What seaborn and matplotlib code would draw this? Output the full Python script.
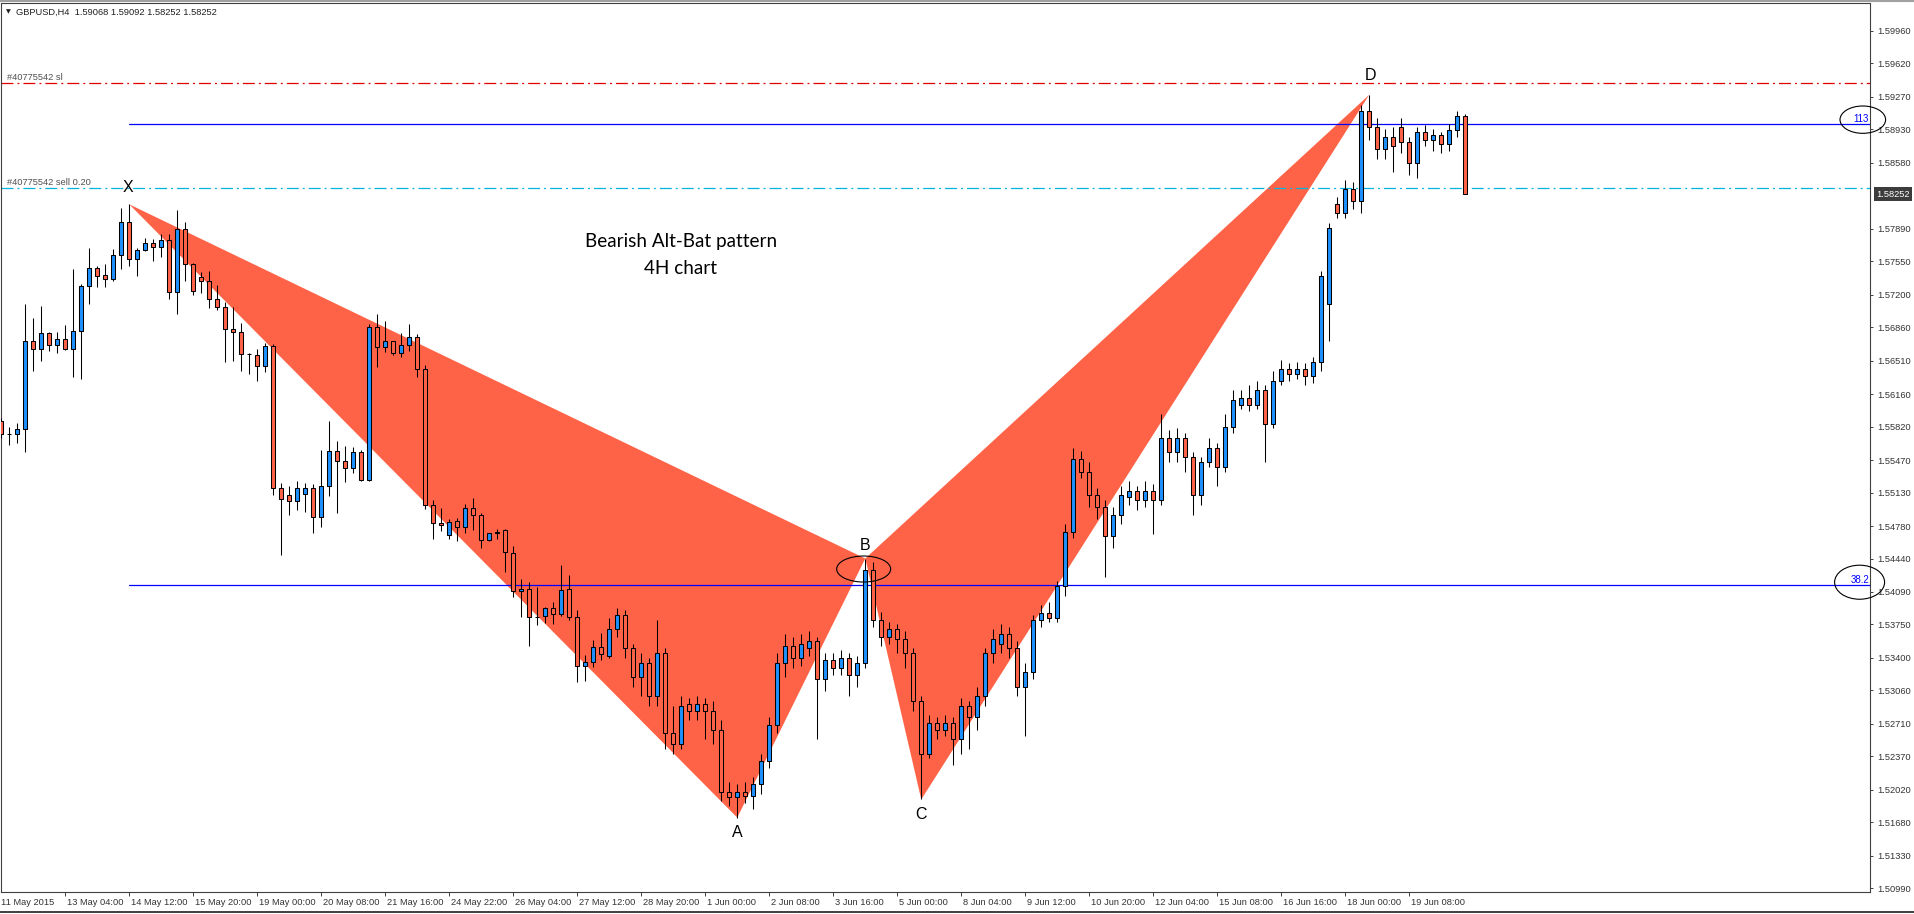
import numpy as np
import pandas as pd
import matplotlib
matplotlib.use("Agg")
import matplotlib.pyplot as plt
from matplotlib.patches import Ellipse
from matplotlib.lines import Line2D
import seaborn as sns

sns.set_theme(style="white")
plt.rcParams['font.family'] = ['Liberation Sans', 'DejaVu Sans']
plt.rcParams['lines.scale_dashes'] = False

# ---------------- data (GBPUSD H4 candles) ----------------
opens = [
    1.55881, 1.55745, 1.55742, 1.55791, 1.56714, 1.56627, 1.56798, 1.56669, 1.56732, 1.56627,
    1.56819, 1.57290, 1.57474, 1.57401, 1.57359, 1.57610, 1.57956, 1.57572, 1.57666, 1.57736,
    1.57695, 1.57768, 1.57224, 1.57883, 1.57517, 1.57381, 1.57339, 1.57151, 1.57067, 1.56837,
    1.56806, 1.56580, 1.56565, 1.56450, 1.56659, 1.55180, 1.55100, 1.55040, 1.55111, 1.55173,
    1.54870, 1.55194, 1.55560, 1.55456, 1.55383, 1.55550, 1.55257, 1.56857, 1.56648, 1.56711,
    1.56585, 1.56669, 1.56753, 1.56418, 1.54996, 1.54807, 1.54686, 1.54829, 1.54773, 1.54965,
    1.54892, 1.54630, 1.54703, 1.54735, 1.54494, 1.54097, 1.54118, 1.53827, 1.53835, 1.53919,
    1.53856, 1.54118, 1.53825, 1.53312, 1.53354, 1.53511, 1.53417, 1.5370, 1.5385, 1.5350,
    1.5320, 1.5335, 1.5300, 1.5345, 1.5262, 1.5250, 1.5292, 1.5285, 1.5292, 1.5285,
    1.5265, 1.5200, 1.5195, 1.5200, 1.5196, 1.5208, 1.5232, 1.5270, 1.5335, 1.5352,
    1.5340, 1.5350, 1.5358, 1.5318, 1.5338, 1.5330, 1.5340, 1.5322, 1.5335, 1.5432,
    1.5380, 1.5362, 1.5370, 1.5360, 1.5345, 1.5295, 1.5240, 1.5272, 1.5265, 1.5272,
    1.5255, 1.5290, 1.5278, 1.5300, 1.5345, 1.5355, 1.5365, 1.5350, 1.5310, 1.5325,
    1.5380, 1.5387, 1.5382, 1.5415, 1.5472, 1.5548, 1.5535, 1.5510, 1.5498, 1.5468,
    1.5490, 1.5508, 1.5515, 1.5505, 1.5515, 1.5505, 1.5570, 1.5555, 1.5570, 1.5550,
    1.5510, 1.5545, 1.5560, 1.5540, 1.5582, 1.5605, 1.5612, 1.5605, 1.5620, 1.5585,
    1.5630, 1.5642, 1.5637, 1.5642, 1.5635, 1.5650, 1.5710, 1.5815, 1.5805, 1.5830,
    1.5818, 1.5912, 1.5895, 1.5872, 1.5885, 1.5895, 1.5880, 1.5858, 1.5890, 1.5882,
    1.5887, 1.5878, 1.5892, 1.59068,
]
highs = [
    1.55910, 1.55818, 1.55853, 1.57101, 1.56951, 1.57080, 1.56805, 1.56812, 1.56882, 1.57467,
    1.57307, 1.57684, 1.57499, 1.57520, 1.57680, 1.58102, 1.58144, 1.57691, 1.57788, 1.57778,
    1.57834, 1.57834, 1.58085, 1.57960, 1.57527, 1.57437, 1.57447, 1.57297, 1.57119, 1.57067,
    1.56900, 1.56593, 1.56628, 1.56691, 1.56680, 1.55230, 1.55200, 1.55250, 1.55226, 1.55215,
    1.55571, 1.55874, 1.55665, 1.55613, 1.55602, 1.55571, 1.56892, 1.56993, 1.56923, 1.56715,
    1.56794, 1.56892, 1.56784, 1.56460, 1.55048, 1.54964, 1.54849, 1.54864, 1.55010, 1.55073,
    1.54913, 1.54710, 1.54745, 1.54749, 1.54571, 1.54222, 1.54194, 1.54139, 1.53936, 1.53985,
    1.54372, 1.54264, 1.53902, 1.53427, 1.53584, 1.53657, 1.53814, 1.5392, 1.5390, 1.5355,
    1.5345, 1.5340, 1.5380, 1.5350, 1.5290, 1.5300, 1.5298, 1.5300, 1.5298, 1.5295,
    1.5275, 1.5210, 1.5208, 1.5210, 1.5215, 1.5240, 1.5278, 1.5345, 1.5365, 1.5362,
    1.5365, 1.5368, 1.5362, 1.5345, 1.5345, 1.5348, 1.5345, 1.5342, 1.5444, 1.5440,
    1.5388, 1.5378, 1.5375, 1.5368, 1.5350, 1.5300, 1.5280, 1.5278, 1.5280, 1.5278,
    1.5298, 1.5295, 1.5310, 1.5350, 1.5370, 1.5375, 1.5372, 1.5358, 1.5335, 1.5385,
    1.5395, 1.5398, 1.5420, 1.5480, 1.5560, 1.5556, 1.5545, 1.5518, 1.5505, 1.5498,
    1.5520, 1.5525, 1.5520, 1.5525, 1.5522, 1.5595, 1.5578, 1.5580, 1.5575, 1.5555,
    1.5550, 1.5570, 1.5565, 1.5595, 1.5620, 1.5620, 1.5625, 1.5630, 1.5625, 1.5640,
    1.5652, 1.5648, 1.5650, 1.5648, 1.5655, 1.5745, 1.5795, 1.5822, 1.5840, 1.5838,
    1.5918, 1.5929, 1.5905, 1.5893, 1.5895, 1.5905, 1.5885, 1.5895, 1.5897, 1.5893,
    1.5890, 1.5898, 1.5912, 1.59092,
]
lows = [
    1.55700, 1.55627, 1.55644, 1.55557, 1.56404, 1.56509, 1.56613, 1.56585, 1.56620, 1.56341,
    1.56320, 1.57098, 1.57276, 1.57276, 1.57345, 1.57467, 1.57502, 1.57398, 1.57656, 1.57555,
    1.57597, 1.57151, 1.57001, 1.57346, 1.57193, 1.57214, 1.57057, 1.57036, 1.56499, 1.56509,
    1.56405, 1.56366, 1.56300, 1.56394, 1.55100, 1.54480, 1.54900, 1.54950, 1.54929, 1.54710,
    1.54765, 1.55097, 1.54912, 1.55243, 1.55330, 1.55247, 1.55247, 1.56439, 1.56596, 1.56564,
    1.56550, 1.56613, 1.56334, 1.54954, 1.54640, 1.54731, 1.54640, 1.54627, 1.54710, 1.54735,
    1.54553, 1.54620, 1.54648, 1.54302, 1.54041, 1.53832, 1.53528, 1.53748, 1.53769, 1.53759,
    1.53835, 1.53793, 1.53150, 1.53160, 1.53302, 1.53375, 1.53396, 1.5362, 1.5340, 1.5310,
    1.5300, 1.5290, 1.5290, 1.5245, 1.5240, 1.5245, 1.5275, 1.5275, 1.5255, 1.5250,
    1.5190, 1.5185, 1.5173, 1.5188, 1.5182, 1.5198, 1.5225, 1.5262, 1.5320, 1.5330,
    1.5332, 1.5342, 1.5255, 1.5305, 1.5322, 1.5322, 1.5300, 1.5310, 1.5330, 1.5372,
    1.5352, 1.5355, 1.5345, 1.5330, 1.5285, 1.5192, 1.5235, 1.5255, 1.5258, 1.5228,
    1.5240, 1.5245, 1.5265, 1.5290, 1.5335, 1.5345, 1.5340, 1.5300, 1.5258, 1.5318,
    1.5372, 1.5378, 1.5378, 1.5405, 1.5465, 1.5528, 1.5498, 1.5485, 1.5425, 1.5455,
    1.5480, 1.5500, 1.5495, 1.5498, 1.5470, 1.5500, 1.5545, 1.5545, 1.5535, 1.5490,
    1.5500, 1.5540, 1.5520, 1.5535, 1.5575, 1.5600, 1.5598, 1.5600, 1.5545, 1.5580,
    1.5625, 1.5630, 1.5632, 1.5625, 1.5628, 1.5640, 1.5672, 1.5800, 1.5800, 1.5810,
    1.5805, 1.5882, 1.5862, 1.5862, 1.5848, 1.5868, 1.5845, 1.5842, 1.5875, 1.5870,
    1.5868, 1.5870, 1.5885, 1.58252,
]
closes = [
    1.55742, 1.55742, 1.55791, 1.56714, 1.56627, 1.56798, 1.56669, 1.56732, 1.56627, 1.56819,
    1.57290, 1.57474, 1.57398, 1.57359, 1.57610, 1.57956, 1.57572, 1.57666, 1.57736, 1.57694,
    1.57768, 1.57224, 1.57883, 1.57517, 1.57234, 1.57339, 1.57151, 1.57067, 1.56837, 1.56806,
    1.56576, 1.56576, 1.56450, 1.56659, 1.55176, 1.55060, 1.55040, 1.55180, 1.55173, 1.54870,
    1.55194, 1.55560, 1.55456, 1.55383, 1.55550, 1.55257, 1.56857, 1.56648, 1.56711, 1.56585,
    1.56669, 1.56753, 1.56418, 1.54996, 1.54807, 1.54786, 1.54825, 1.54773, 1.54965, 1.54892,
    1.54630, 1.54703, 1.54721, 1.54505, 1.54097, 1.54118, 1.53825, 1.53825, 1.53919, 1.53856,
    1.54107, 1.53825, 1.53312, 1.53354, 1.53511, 1.53438, 1.53699, 1.5385, 1.5350, 1.5320,
    1.5335, 1.5300, 1.5345, 1.5262, 1.5250, 1.5290, 1.5285, 1.5292, 1.5285, 1.5265,
    1.5200, 1.5195, 1.5200, 1.5196, 1.5208, 1.5232, 1.5270, 1.5335, 1.5352, 1.5340,
    1.5355, 1.5358, 1.5318, 1.5338, 1.5330, 1.5340, 1.5322, 1.5335, 1.5432, 1.5380,
    1.5362, 1.5370, 1.5360, 1.5345, 1.5295, 1.5240, 1.5272, 1.5265, 1.5272, 1.5255,
    1.5290, 1.5278, 1.5300, 1.5345, 1.5360, 1.5365, 1.5350, 1.5310, 1.5325, 1.5380,
    1.5387, 1.5382, 1.5415, 1.5472, 1.5548, 1.5535, 1.5510, 1.5498, 1.5468, 1.5490,
    1.5510, 1.5515, 1.5505, 1.5515, 1.5505, 1.5570, 1.5555, 1.5570, 1.5550, 1.5510,
    1.5545, 1.5560, 1.5540, 1.5582, 1.5610, 1.5612, 1.5605, 1.5620, 1.5585, 1.5630,
    1.5642, 1.5637, 1.5642, 1.5635, 1.5650, 1.5740, 1.5790, 1.5805, 1.5830, 1.5818,
    1.5912, 1.5895, 1.5872, 1.5885, 1.5875, 1.5880, 1.5858, 1.5890, 1.5882, 1.5887,
    1.5878, 1.5892, 1.5907, 1.58252,
]

time_labels = ["11 May 2015", "13 May 04:00", "14 May 12:00", "15 May 20:00", "19 May 00:00",
               "20 May 08:00", "21 May 16:00", "24 May 22:00", "26 May 04:00", "27 May 12:00",
               "28 May 20:00", "1 Jun 00:00", "2 Jun 08:00", "3 Jun 16:00", "5 Jun 00:00",
               "8 Jun 04:00", "9 Jun 12:00", "10 Jun 20:00", "12 Jun 04:00", "15 Jun 08:00",
               "16 Jun 16:00", "18 Jun 00:00", "19 Jun 08:00"]
time_label_bars = [0, 8, 16, 24, 32, 40, 48, 56, 64, 72, 80, 88, 96, 104, 112,
                   120, 128, 136, 144, 152, 160, 168, 176]

price_ticks = [1.59960, 1.59620, 1.59270, 1.58930, 1.58580, 1.57890, 1.57550, 1.57200,
               1.56860, 1.56510, 1.56160, 1.55820, 1.55470, 1.55130, 1.54780, 1.54440,
               1.54090, 1.53750, 1.53400, 1.53060, 1.52710, 1.52370, 1.52020, 1.51680,
               1.51330, 1.50990]

pattern_names = ["X", "A", "B", "C", "D"]
pattern_bars = [16, 92, 108, 115, 171]
pattern_prices = [1.58144, 1.5173, 1.5444, 1.5192, 1.5929]

sl_price = 1.59410
entry_price = 1.58313
fib_113 = 1.58985
fib_382 = 1.54163
last_price = 1.58252
header = "GBPUSD,H4  1.59068 1.59092 1.58252 1.58252"
caption = ["Bearish Alt-Bat pattern", "4H chart"]

# ---------------- figure ----------------
W, H = 1914, 914
fig = plt.figure(figsize=(W / 100, H / 100), dpi=100)
fig.patch.set_facecolor("white")
ax = fig.add_axes([1 / W, 1 - 892 / H, 1869 / W, (892 - 3.3) / H])
ax.set_facecolor("white")

n = min(len(opens), len(highs), len(lows), len(closes))
df = pd.DataFrame({"bar": np.arange(n), "open": opens[:n], "high": highs[:n],
                   "low": lows[:n], "close": closes[:n]})
df["up"] = df["close"] >= df["open"]
df["bottom"] = df[["open", "close"]].min(axis=1)
df["height"] = (df["close"] - df["open"]).abs()

UP, DOWN = "#1E90FF", "#FF6347"

# harmonic pattern triangles
pb = dict(zip(pattern_names, pattern_bars))
pp = dict(zip(pattern_names, pattern_prices))
ax.fill([pb["X"], pb["A"], pb["B"]], [pp["X"], pp["A"], pp["B"]],
        color="#FF6347", lw=0, zorder=1)
ax.fill([pb["B"], pb["C"], pb["D"]], [pp["B"], pp["C"], pp["D"]],
        color="#FF6347", lw=0, zorder=1)

# horizontal lines
xmax = 233.6
ax.plot([pb["X"], xmax], [fib_113, fib_113], color="#0000FF", lw=0.9, zorder=2)
ax.plot([pb["X"], xmax], [fib_382, fib_382], color="#0000FF", lw=0.9, zorder=2)
ax.axhline(sl_price, color="#E00000", lw=0.9, dashes=(8.6, 2.9, 1.4, 2.9), zorder=2)
ax.axhline(entry_price, color="#00B4E0", lw=0.9, dashes=(8.6, 2.9, 1.4, 2.9), zorder=2)

# candles
ax.vlines(df["bar"], df["low"], df["high"], color="black", lw=0.75, zorder=3)
ax.bar(df["bar"], df["height"], bottom=df["bottom"], width=0.52,
       color=np.where(df["up"], UP, DOWN), edgecolor="black", linewidth=0.75, zorder=4)

ax.set_xlim(-0.04, xmax)
ax.set_ylim(1.50952, 1.60247)

# pattern letters
offsets = {"X": (-1, 17), "A": (0, -15), "B": (0, 13), "C": (0, -15), "D": (1, 19)}
for name in pattern_names:
    ax.annotate(name, xy=(pb[name], pp[name]), xytext=offsets[name],
                textcoords="offset pixels", ha="center", va="center",
                fontsize=11.5, color="black", zorder=6)

# ellipses
ax.add_patch(Ellipse((107.8, 1.54330), 6.75, 0.00272, fill=False, ec="black", lw=0.8,
                     zorder=6, clip_on=False))
ax.add_patch(Ellipse((232.7, 1.59030), 5.7, 0.00286, fill=False, ec="black", lw=0.8,
                     zorder=6, clip_on=False))
ax.add_patch(Ellipse((232.3, 1.54192), 6.25, 0.00356, fill=False, ec="black", lw=0.8,
                     zorder=6, clip_on=False))

small = 6.7
ax.annotate("113", xy=(xmax, fib_113), xytext=(-1, 2), textcoords="offset pixels",
            ha="right", va="baseline", fontsize=7.0, color="#0000FF", zorder=7)
ax.annotate("38.2", xy=(xmax, fib_382), xytext=(-1, 2), textcoords="offset pixels",
            ha="right", va="baseline", fontsize=7.0, color="#0000FF", zorder=7)
ax.annotate("#40775542 sl", xy=(-0.04, sl_price), xytext=(6, 3), textcoords="offset pixels",
            ha="left", va="baseline", fontsize=small, color="#505050", zorder=7)
ax.annotate("#40775542 sell 0.20", xy=(-0.04, entry_price), xytext=(6, 3),
            textcoords="offset pixels", ha="left", va="baseline", fontsize=small,
            color="#505050", zorder=7)

# right price axis
ax.yaxis.tick_right()
ax.set_yticks(price_ticks)
ax.set_yticklabels([f"{p:.5f}" for p in price_ticks])
ax.tick_params(axis="y", direction="out", length=2.5, width=0.7, color="#404040",
               pad=3, labelsize=small, labelcolor="#333333", right=True, left=False)
ax.annotate(f"{last_price:.5f}", xy=(1, last_price), xycoords=("axes fraction", "data"),
            xytext=(6, 0), textcoords="offset pixels", ha="left", va="center",
            fontsize=small, color="white", annotation_clip=False,
            bbox=dict(boxstyle="square,pad=0.25", fc="#3C3C3C", ec="none"), zorder=8)

# time axis
ax.set_xticks(time_label_bars[1:])
ax.set_xticklabels([])
ax.tick_params(axis="x", direction="out", length=3, width=0.7, color="#404040",
               bottom=True)
for b, lab in zip(time_label_bars, time_labels):
    dx = 2 if b > 0 else 0
    ax.annotate(lab, xy=(b, 0), xycoords=("data", "axes fraction"), xytext=(dx, -6),
                textcoords="offset pixels", ha="left", va="top", fontsize=small,
                color="#333333", annotation_clip=False)

for s in ax.spines.values():
    s.set_color("#404040")
    s.set_linewidth(0.8)
    s.set_visible(True)
ax.grid(False)

# chart caption
fig.text(681 / W, 1 - 242 / H, caption[0], ha="center", va="center",
         fontsize=13.6, family=["Lato", "DejaVu Sans"], color="black")
fig.text(681 / W, 1 - 268 / H, caption[1], ha="center", va="center",
         fontsize=13.6, family=["Lato", "DejaVu Sans"], color="black")

# header
fig.text(16.5 / W, 1 - 12 / H, header, ha="left", va="center", fontsize=small,
         color="#202020")
fig.text(8 / W, 1 - 12 / H, "\u25BC", ha="center", va="center", fontsize=4.5,
         family=["DejaVu Sans"], color="#202020")

# window borders
fig.add_artist(Line2D([0, 1], [1 - 1 / H, 1 - 1 / H], color="#A0A0A0", lw=1.5))
fig.add_artist(Line2D([0, 1], [1 - 911.5 / H, 1 - 911.5 / H], color="#202020", lw=1.2))

fig.savefig("out.png", dpi=100)
